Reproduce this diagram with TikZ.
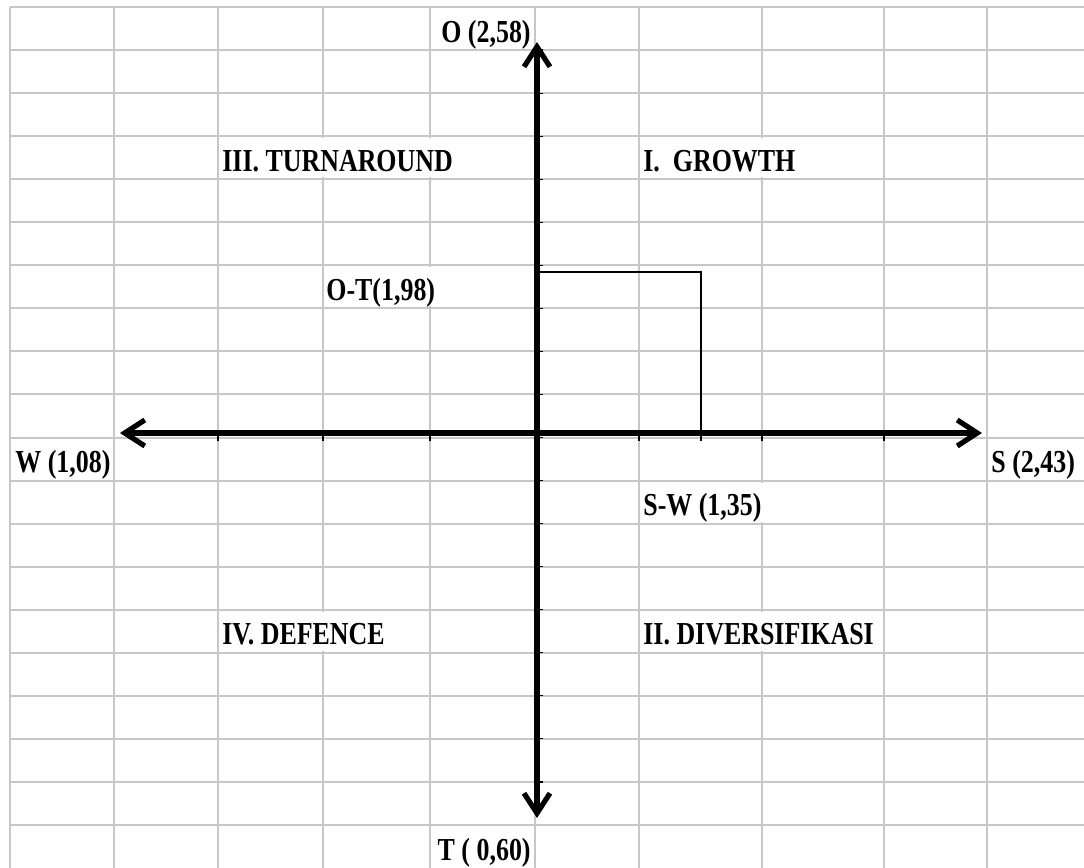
\documentclass[tikz,border=0pt]{standalone}
\usepackage{fontspec}
\setmainfont{Liberation Serif}[FakeStretch=0.81]
\usetikzlibrary{arrows.meta,positioning}

\tikzset{
    gridline/.style={draw=black!22, line width=1pt},
    axis/.style={line width=2.6pt, <->},
    tick/.style={line width=0.6pt},
    cell/.style={font=\bfseries\fontsize{16}{18}\selectfont, fill=white,
        inner xsep=1pt, inner ysep=0pt, text height=16.5pt, text depth=3.2pt},
}

\begin{document}
\begin{tikzpicture}[x=0.5pt, y=-0.5pt, >={Straight Barb[length=10pt,width=13pt]}]
    \useasboundingbox (0,0) rectangle (1084,868);

    % Spreadsheet grid
    \foreach \gx in {10,114,218,323,430,535,639,762,884,987}
        \draw[gridline] (\gx,7) -- (\gx,868);
    \foreach \k in {0,...,19}
        \draw[gridline] (10,{7+43.05*\k}) -- (1084,{7+43.05*\k});

    % Points
    \coordinate (O) at (537,433);
    \coordinate (Otip) at (537,42);
    \coordinate (Ttip) at (537,818);
    \coordinate (Wtip) at (120,433);
    \coordinate (Stip) at (982,433);
    \coordinate (P) at (701,272);

    % Ticks
    \foreach \k in {1,...,18}
        \draw[tick] (537,{7+43.05*\k}) -- ++(6,0);
    \foreach \gx in {218,323,430,639,701,762,884}
        \draw[tick] (\gx,433) -- ++(0,8);

    % S-W / O-T box
    \draw[line width=0.8pt] (O |- P) -- (P) -- (P |- O);

    % Axes
    \draw[axis] (Ttip) -- (Otip);
    \draw[axis] (Wtip) -- (Stip);

    % Labels
    \node[cell, anchor=base east] (lblO) at (533,42) {O (2,58)};
    \node[cell, anchor=base east] (lblT) at (533,860) {T ( 0,60)};
    \node[cell, anchor=base west] (lblW) at (13,472.5) {W (1,08)};
    \node[cell, anchor=base west] (lblS) at (989,472.5) {S (2,43)};
    \node[cell, anchor=base west] (lblOT) at (324,300) {O-T(1,98)};
    \node[cell, anchor=base west] (lblSW) at (641,515.6) {S-W (1,35)};
    \node[cell, anchor=base west] (quadIII) at (220,171) {III. TURNAROUND};
    \node[cell, anchor=base west] (quadI) at (641,171) {I.~~GROWTH};
    \node[cell, anchor=base west] (quadIV) at (220,644.7) {IV. DEFENCE};
    \node[cell, anchor=base west] (quadII) at (641,644.7) {II. DIVERSIFIKASI};
\end{tikzpicture}
\end{document}
